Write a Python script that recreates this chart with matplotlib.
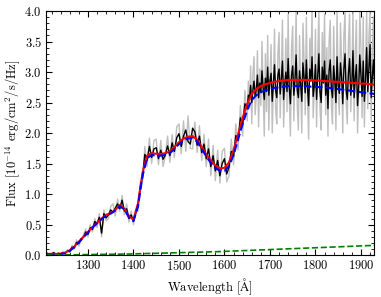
import numpy as np
import matplotlib
matplotlib.use("Agg")
import matplotlib.pyplot as plt
from matplotlib.ticker import MultipleLocator

plt.rcParams["font.family"] = "serif"
plt.rcParams["font.serif"] = ["cmr10"]
plt.rcParams["mathtext.fontset"] = "cm"
plt.rcParams["axes.formatter.use_mathtext"] = True
plt.rcParams["font.size"] = 9

# observed spectrum: 5 A grid below 1650, 2.5 A grid above
wave = np.concatenate([np.arange(1210, 1650, 5.0), np.arange(1650, 1930.1, 2.5)])

flux_raw = [
    # 1210 - 1645
    0.04, 0.00, 0.03, 0.05, 0.00, 0.04, 0.01, 0.06, 0.02, 0.09,
    0.04, 0.16, 0.10, 0.25, 0.15, 0.24, 0.33, 0.43, 0.30, 0.50,
    0.38, 0.60, 0.45, 0.68, 0.30, 0.74, 0.56, 0.60, 0.80, 0.84,
    0.64, 0.92, 0.72, 0.98, 0.66, 0.84, 0.54, 0.72, 0.50, 0.75,
    0.72, 1.20, 1.20, 1.78, 1.45, 1.92, 1.50, 1.88, 1.90, 1.48,
    1.88, 1.45, 1.62, 1.95, 1.52, 1.98, 1.60, 2.10, 2.15, 1.66,
    2.20, 1.70, 2.28, 1.75, 1.74, 2.18, 1.68, 2.12, 1.55, 1.98,
    1.45, 1.90, 1.30, 1.80, 1.22, 1.72, 1.18, 1.70, 1.75, 1.20,
    1.30, 1.90, 1.48, 2.15, 1.72, 2.45, 1.95, 2.70,
    # 1650 - 1930
    2.20, 2.85, 2.40, 3.10, 2.15, 2.95, 3.25, 2.30,
    2.60, 3.35, 2.10, 3.05, 2.45, 3.50, 2.70, 1.95,
    3.30, 2.35, 3.60, 2.05, 2.90, 3.45, 2.00, 2.75,
    3.70, 2.40, 2.15, 3.30, 3.65, 2.25, 3.00, 3.85,
    2.10, 2.70, 3.55, 2.35, 3.95, 2.55, 1.95, 3.40,
    3.75, 2.20, 2.95, 4.00, 2.45, 2.05, 3.60, 2.80,
    2.00, 3.80, 3.20, 2.30, 3.90, 2.60, 1.90, 3.55,
    3.05, 4.00, 2.25, 2.70, 3.70, 2.10, 3.25, 4.00,
    2.40, 2.05, 3.65, 2.90, 3.95, 2.30, 3.40, 1.95,
    3.50, 3.85, 2.45, 2.15, 3.75, 2.95, 2.05, 4.00,
    2.70, 2.30, 3.80, 3.20, 2.00, 3.60, 4.00, 2.50,
    2.15, 3.45, 3.95, 2.35, 2.85, 4.00, 2.20, 3.30,
    3.85, 2.00, 2.65, 4.00, 3.40, 2.25, 3.90, 2.10,
    2.95, 4.00, 2.40, 3.55, 4.00, 2.20, 3.35, 3.90,
    2.60,
]

flux_bin = [
    # 1210 - 1645
    0.03, 0.01, 0.02, 0.04, 0.01, 0.03, 0.02, 0.04, 0.03, 0.07,
    0.06, 0.13, 0.12, 0.21, 0.19, 0.27, 0.29, 0.38, 0.34, 0.45,
    0.42, 0.55, 0.52, 0.62, 0.36, 0.68, 0.61, 0.66, 0.74, 0.70,
    0.77, 0.84, 0.76, 0.90, 0.72, 0.76, 0.60, 0.66, 0.55, 0.68,
    0.80, 1.12, 1.28, 1.65, 1.55, 1.78, 1.60, 1.74, 1.76, 1.58,
    1.72, 1.57, 1.64, 1.79, 1.63, 1.84, 1.70, 1.92, 1.99, 1.78,
    1.95, 2.05, 1.86, 1.82, 2.08, 2.02, 1.80, 1.95, 1.68, 1.82,
    1.58, 1.74, 1.45, 1.63, 1.38, 1.55, 1.30, 1.50, 1.58, 1.33,
    1.44, 1.70, 1.62, 1.96, 1.88, 2.25, 2.14, 2.48,
    # 1650 - 1930
    2.40, 2.62, 2.55, 2.78, 2.50, 2.70, 2.85, 2.60,
    2.72, 2.95, 2.58, 2.82, 2.66, 3.02, 2.74, 2.55,
    2.90, 2.68, 3.08, 2.62, 2.85, 2.98, 2.52, 2.80,
    3.12, 2.70, 2.58, 2.95, 3.05, 2.64, 2.88, 3.18,
    2.55, 2.80, 3.00, 2.68, 3.22, 2.74, 2.48, 2.95,
    3.10, 2.62, 2.86, 3.28, 2.70, 2.58, 3.02, 2.80,
    2.52, 3.15, 2.90, 2.66, 3.20, 2.75, 2.45, 3.05,
    2.85, 3.25, 2.60, 2.78, 3.12, 2.55, 2.92, 3.30,
    2.68, 2.50, 3.08, 2.82, 3.18, 2.62, 2.95, 2.40,
    3.02, 3.20, 2.72, 2.58, 3.10, 2.85, 2.50, 3.25,
    2.78, 2.65, 3.15, 2.92, 2.48, 3.05, 3.30, 2.70,
    2.55, 2.98, 3.22, 2.62, 2.80, 3.35, 2.58, 2.90,
    3.12, 2.45, 2.75, 3.28, 2.95, 2.60, 3.18, 2.52,
    2.85, 3.40, 2.68, 3.05, 3.45, 2.58, 2.92, 3.20,
    2.75,
]

# model curves, 10 A grid
wave_mod = np.arange(1210, 1931, 10)
model_total = [
    0.02, 0.02, 0.02, 0.025, 0.04, 0.08, 0.14, 0.22, 0.30, 0.38,
    0.46, 0.53, 0.60, 0.66, 0.69, 0.74, 0.82, 0.76, 0.64, 0.58,
    0.85, 1.35, 1.63, 1.67, 1.66, 1.66, 1.67, 1.70, 1.77, 1.85,
    1.91, 1.94, 1.95, 1.89, 1.77, 1.65, 1.55, 1.47, 1.42, 1.43,
    1.52, 1.72, 1.98, 2.25, 2.48, 2.64, 2.72, 2.77, 2.80, 2.82,
    2.84, 2.85, 2.86, 2.87, 2.87, 2.87, 2.87, 2.87, 2.87, 2.86,
    2.86, 2.85, 2.85, 2.84, 2.84, 2.83, 2.83, 2.82, 2.82, 2.81,
    2.81, 2.80, 2.79,
]
model_stars = [
    0.01, 0.01, 0.01, 0.015, 0.03, 0.07, 0.13, 0.21, 0.29, 0.37,
    0.45, 0.52, 0.59, 0.65, 0.68, 0.73, 0.80, 0.75, 0.62, 0.56,
    0.80, 1.30, 1.59, 1.64, 1.63, 1.63, 1.64, 1.67, 1.74, 1.82,
    1.88, 1.91, 1.92, 1.86, 1.74, 1.62, 1.51, 1.43, 1.38, 1.38,
    1.46, 1.64, 1.90, 2.15, 2.38, 2.54, 2.62, 2.67, 2.70, 2.72,
    2.74, 2.75, 2.76, 2.77, 2.77, 2.77, 2.77, 2.77, 2.76, 2.76,
    2.75, 2.75, 2.74, 2.73, 2.72, 2.71, 2.70, 2.69, 2.68, 2.67,
    2.66, 2.65, 2.64,
]
model_neb = [
    0.000, 0.001, 0.002, 0.003, 0.004, 0.005, 0.006, 0.007, 0.008, 0.009,
    0.010, 0.011, 0.012, 0.013, 0.014, 0.015, 0.016, 0.017, 0.018, 0.020,
    0.022, 0.024, 0.026, 0.028, 0.030, 0.032, 0.034, 0.036, 0.038, 0.040,
    0.042, 0.044, 0.046, 0.048, 0.050, 0.052, 0.054, 0.056, 0.058, 0.061,
    0.064, 0.067, 0.070, 0.073, 0.076, 0.079, 0.082, 0.085, 0.088, 0.091,
    0.094, 0.097, 0.100, 0.103, 0.106, 0.109, 0.112, 0.115, 0.118, 0.121,
    0.124, 0.127, 0.130, 0.133, 0.136, 0.139, 0.142, 0.145, 0.148, 0.151,
    0.154, 0.157, 0.160,
]

fig = plt.figure(figsize=(3.81, 2.97), dpi=100)
ax = fig.add_axes([0.121, 0.141, 0.861, 0.822])

ax.plot(wave, flux_raw, color="#bfbfbf", lw=1.0)
ax.plot(wave, flux_bin, color="k", lw=1.0)
ax.plot(wave_mod, model_total, color="r", lw=1.5)
ax.plot(wave_mod, model_stars, color="b", lw=1.5, ls="--")
ax.plot(wave_mod, model_neb, color="g", lw=1.2, ls="--")

ax.set_xlim(1208, 1929)
ax.set_ylim(0, 4.0)
ax.xaxis.set_major_locator(MultipleLocator(100))
ax.xaxis.set_minor_locator(MultipleLocator(20))
ax.yaxis.set_major_locator(MultipleLocator(0.5))
ax.yaxis.set_minor_locator(MultipleLocator(0.1))
ax.tick_params(which="both", direction="in", top=True, right=True)
ax.tick_params(which="major", length=4, pad=3)
ax.tick_params(which="minor", length=2)

ax.set_xlabel(r"Wavelength [$\mathrm{\AA}$]", labelpad=2)
ax.set_ylabel(r"Flux [$10^{-14}$ erg/cm$^2$/s/Hz]", labelpad=2)

fig.savefig("out.png", dpi=100)
